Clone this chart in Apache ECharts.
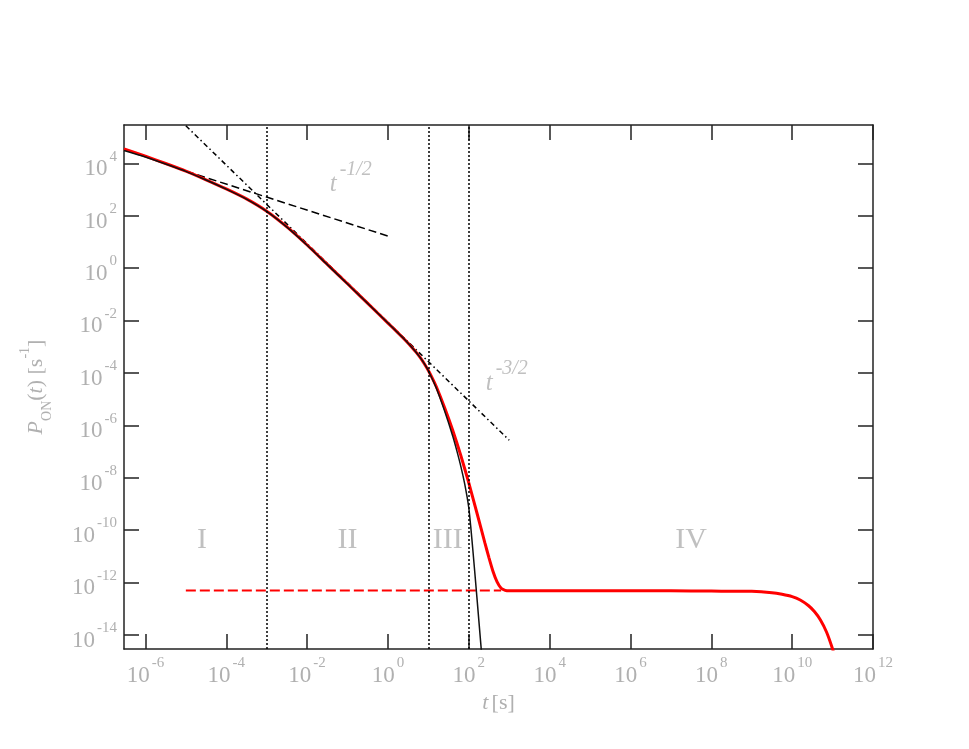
<!DOCTYPE html>
<html lang="en">
<head>
<meta charset="UTF-8">
<title>P_ON(t)</title>
<script src="https://cdn.jsdelivr.net/npm/echarts@6/dist/echarts.min.js"></script>
<style>
    html, body { margin: 0; padding: 0; background: #fff; }
    #main { width: 969px; height: 749px; }
</style>
</head>
<body>
<div id="main"></div>
<script>
// all values are log10 exponents (log-log plot)
var xTicks = [-6, -4, -2, 0, 2, 4, 6, 8, 10, 12];
var yTicks = [-14, -12, -10, -8, -6, -4, -2, 0, 2, 4];

// full curve (red)
var redLogT = [-6.53, -6, -5.5, -5, -4.5, -4, -3.5, -3, -2.5, -2, -1.5, -1, -0.5, 0, 0.2, 0.4, 0.5, 0.6, 0.7, 0.8, 0.9, 1, 1.1, 1.2, 1.4, 1.6, 1.8, 2, 2.2, 2.4, 2.5, 2.6, 2.7, 2.8, 2.9, 3, 5, 7, 8, 9, 9.5, 9.75, 10, 10.2, 10.4, 10.55, 10.7, 10.85, 11, 11.1];
var redLogP = [4.55, 4.27, 3.99, 3.70, 3.37, 3.02, 2.64, 2.17, 1.57, 0.88, 0.14, -0.60, -1.35, -2.10, -2.40, -2.71, -2.87, -3.04, -3.22, -3.42, -3.65, -3.91, -4.21, -4.54, -5.32, -6.18, -7.14, -8.2, -9.34, -10.5, -11.06, -11.58, -11.98, -12.22, -12.30, -12.32, -12.32, -12.32, -12.33, -12.34, -12.39, -12.45, -12.54, -12.67, -12.88, -13.11, -13.43, -13.89, -14.54, -15.1];

// approximation (black)
var blackLogT = [-6.53, -6, -5.5, -5, -4.5, -4, -3.5, -3, -2.5, -2, -1.5, -1, -0.5, 0, 0.2, 0.4, 0.5, 0.6, 0.7, 0.8, 0.9, 1, 1.2, 1.4, 1.6, 1.7, 1.8, 1.9, 2, 2.05, 2.1, 2.2, 2.3, 2.36];
var blackLogP = [4.49, 4.24, 3.97, 3.69, 3.36, 3.01, 2.63, 2.16, 1.56, 0.87, 0.13, -0.61, -1.35, -2.10, -2.40, -2.71, -2.87, -3.04, -3.22, -3.42, -3.65, -3.92, -4.6, -5.45, -6.4, -6.95, -7.55, -8.25, -9.15, -9.9, -10.75, -12.55, -14.4, -15.5];

// asymptotes
var halfT = [-5, 0];
var halfP = [3.70, 1.22];
var threeHalfT = [-5, 3];
var threeHalfP = [5.43, -6.57];
var plateauT = [-5, 2.8];
var plateauP = [-12.31, -12.31];

// regime boundaries and labels
var boundsT = [-3, 1, 2];
var regionNames = ['I', 'II', 'III', 'IV'];
var regionT = [-4.6, -1, 1.48, 7.5];
var regionP = [-10.4, -10.4, -10.4, -10.4];

var slopeNames = ['-1/2', '-3/2'];
var slopeT = [-0.92, 2.94];
var slopeP = [3.19, -4.40];

var GRAY = '#b0b0b0';
var SERIF = '"Liberation Serif", "DejaVu Serif", serif';

function pairs(xs, ys) {
    var out = [];
    for (var i = 0; i < xs.length; i++) out.push([xs[i], ys[i]]);
    return out;
}

var tickRich = {
    b: { fontFamily: SERIF, fontSize: 23, color: GRAY, lineHeight: 40 },
    s: { fontFamily: SERIF, fontSize: 15, color: GRAY, lineHeight: 14, verticalAlign: 'top', padding: [0, 0, 0, 2] }
};
function powLabel(v) { return '{b|10}{s|' + v + '}'; }

var chart = echarts.init(document.getElementById('main'), null, { renderer: 'canvas' });

var axisLine = { show: true, onZero: false, lineStyle: { color: '#222', width: 1.5 } };
var tickStyle = { color: '#222', width: 1.5 };

var option = {
    animation: false,
    backgroundColor: '#fff',
    grid: { left: 124, top: 125, width: 749, height: 524, containLabel: false },
    xAxis: [{
        type: 'value', position: 'bottom', min: -6.53, max: 12,
        axisLine: axisLine,
        axisTick: { show: true, inside: true, length: 15, customValues: xTicks, lineStyle: tickStyle },
        axisLabel: { show: true, customValues: xTicks, margin: 7, formatter: powLabel, rich: tickRich },
        splitLine: { show: false },
        name: '{i|t} {n|[s]}', nameLocation: 'middle', nameGap: 42,
        nameTextStyle: {
            rich: {
                i: { fontFamily: SERIF, fontStyle: 'italic', fontSize: 22, color: GRAY },
                n: { fontFamily: SERIF, fontSize: 22, color: GRAY }
            }
        }
    }, {
        type: 'value', position: 'top', min: -6.53, max: 12,
        axisLine: axisLine,
        axisTick: { show: true, inside: true, length: 15, customValues: xTicks, lineStyle: tickStyle },
        axisLabel: { show: false },
        splitLine: { show: false }
    }],
    yAxis: [{
        type: 'value', position: 'left', min: -14.54, max: 5.46,
        axisLine: axisLine,
        axisTick: { show: true, inside: true, length: 15, customValues: yTicks, lineStyle: tickStyle },
        axisLabel: { show: true, customValues: yTicks, margin: 7, padding: [12, 0, 0, 0], formatter: powLabel, rich: tickRich },
        splitLine: { show: false },
        name: '{i|P}{sub|ON}{n|(}{i|t}{n|) [s}{sup|-1}{n|]}',
        nameLocation: 'middle', nameGap: 70, nameRotate: 90,
        nameTextStyle: {
            rich: {
                i: { fontFamily: SERIF, fontStyle: 'italic', fontSize: 22, color: GRAY, lineHeight: 36 },
                n: { fontFamily: SERIF, fontSize: 22, color: GRAY, lineHeight: 36 },
                sub: { fontFamily: SERIF, fontSize: 14, color: GRAY, lineHeight: 14, verticalAlign: 'bottom' },
                sup: { fontFamily: SERIF, fontSize: 14, color: GRAY, lineHeight: 14, verticalAlign: 'top' }
            }
        }
    }, {
        type: 'value', position: 'right', min: -14.54, max: 5.46,
        axisLine: axisLine,
        axisTick: { show: true, inside: true, length: 15, customValues: yTicks, lineStyle: tickStyle },
        axisLabel: { show: false },
        splitLine: { show: false }
    }],
    series: [{
        name: 'plateau', type: 'line', data: pairs(plateauT, plateauP),
        showSymbol: false, silent: true,
        lineStyle: { color: '#ff0000', width: 2, type: [10, 4] }
    }, {
        name: 'half', type: 'line', data: pairs(halfT, halfP),
        showSymbol: false, silent: true,
        lineStyle: { color: '#000', width: 1.5, type: [8, 4] }
    }, {
        name: 'threeHalf', type: 'line', data: pairs(threeHalfT, threeHalfP),
        showSymbol: false, silent: true,
        lineStyle: { color: '#000', width: 1.5, type: [5, 3, 1.5, 3] }
    }, {
        name: 'full', type: 'line', data: pairs(redLogT, redLogP),
        showSymbol: false, silent: true, smooth: 0.2,
        lineStyle: { color: '#ff0000', width: 3 }
    }, {
        name: 'approx', type: 'line', data: pairs(blackLogT, blackLogP),
        showSymbol: false, silent: true, smooth: 0.2,
        lineStyle: { color: '#111', width: 1.5 },
        markLine: {
            silent: true, symbol: ['none', 'none'],
            label: { show: false },
            lineStyle: { color: '#000', width: 1.5, type: [2, 2] },
            data: boundsT.map(function (v) { return { xAxis: v }; })
        }
    }, {
        name: 'regions', type: 'scatter', symbolSize: 1, silent: true,
        itemStyle: { color: 'rgba(0,0,0,0)' },
        data: regionNames.map(function (n, i) { return { name: n, value: [regionT[i], regionP[i]] }; }),
        label: {
            show: true, position: 'inside', align: 'center', verticalAlign: 'middle',
            formatter: function (p) { return p.name; },
            fontFamily: SERIF, fontSize: 30, color: GRAY
        }
    }, {
        name: 'slopes', type: 'scatter', symbolSize: 1, silent: true,
        itemStyle: { color: 'rgba(0,0,0,0)' },
        data: slopeNames.map(function (n, i) { return { name: n, value: [slopeT[i], slopeP[i]] }; }),
        label: {
            show: true, position: 'inside', align: 'center', verticalAlign: 'middle',
            formatter: function (p) { return '{t|t}{s|' + p.name + '}'; },
            rich: {
                t: { fontFamily: SERIF, fontStyle: 'italic', fontSize: 25, color: GRAY, lineHeight: 50 },
                s: { fontFamily: SERIF, fontStyle: 'italic', fontSize: 20, color: GRAY, lineHeight: 14, verticalAlign: 'top', padding: [0, 0, 0, 3] }
            }
        }
    }]
};

chart.setOption(option);
</script>
</body>
</html>
